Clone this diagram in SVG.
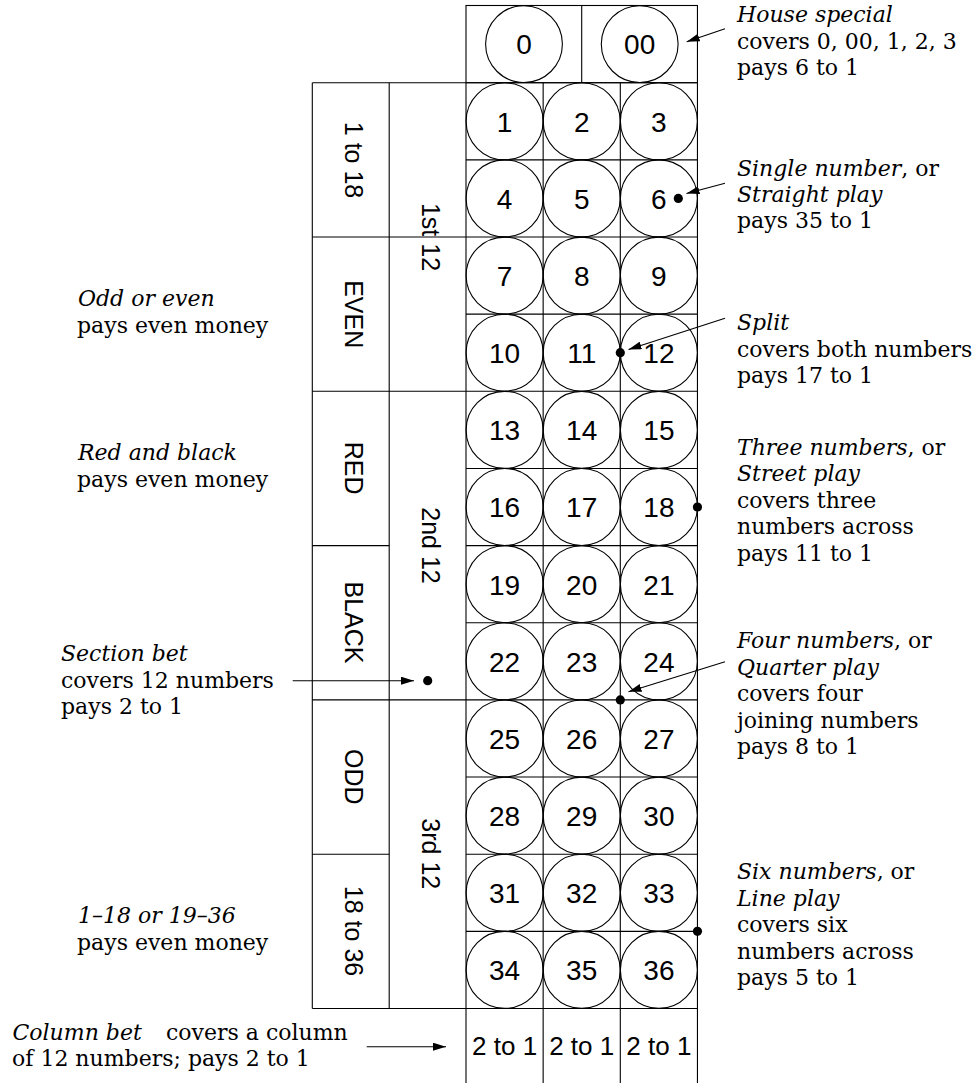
<svg xmlns="http://www.w3.org/2000/svg" width="978" height="1083" viewBox="0 0 978 1083">
<style>
.ln{stroke:#000;stroke-width:1.1;fill:none}
.c{fill:none;stroke:#000;stroke-width:1.1}
.n{font-family:"Liberation Sans",Arial,sans-serif;font-size:28px;text-anchor:middle;fill:#000}
.t{font-family:"Liberation Sans",Arial,sans-serif;font-size:26px;text-anchor:middle;fill:#000}
.v{font-family:"Liberation Sans",Arial,sans-serif;font-size:25px;text-anchor:middle;fill:#000}
.a{font-family:"DejaVu Serif","Liberation Serif",serif;font-size:22px;fill:#000}
.i{font-style:italic}
.dot{fill:#000}
.arr{stroke:#000;stroke-width:1.1;fill:none;marker-end:url(#ah)}
</style>
<defs>
<marker id="ah" markerUnits="userSpaceOnUse" markerWidth="13" markerHeight="8" refX="13" refY="4" orient="auto">
<path d="M0,0 L13,4 L0,8 z" fill="#000"/>
</marker>
</defs>
<rect width="978" height="1083" fill="#fff"/>

<!-- table frame -->
<g id="frame">
<rect class="ln" x="466" y="5.5" width="231.45" height="77.2"/>
<line class="ln" x1="581.7" y1="5.5" x2="581.7" y2="82.7"/>
<line class="ln" x1="312.3" y1="82.7" x2="697.45" y2="82.7"/>
<line class="ln" x1="312.3" y1="82.7" x2="312.3" y2="1008.5"/>
<line class="ln" x1="389.2" y1="82.7" x2="389.2" y2="1008.5"/>
<line class="ln" x1="466" y1="82.7" x2="466" y2="1083"/>
<line class="ln" x1="543.15" y1="82.7" x2="543.15" y2="1083"/>
<line class="ln" x1="620.3" y1="82.7" x2="620.3" y2="1083"/>
<line class="ln" x1="697.45" y1="82.7" x2="697.45" y2="1083"/>
<line class="ln" x1="466" y1="159.85" x2="697.45" y2="159.85"/>
<line class="ln" x1="312.3" y1="237" x2="697.45" y2="237"/>
<line class="ln" x1="466" y1="314.15" x2="697.45" y2="314.15"/>
<line class="ln" x1="312.3" y1="391.3" x2="697.45" y2="391.3"/>
<line class="ln" x1="466" y1="468.45" x2="697.45" y2="468.45"/>
<line class="ln" x1="312.3" y1="545.6" x2="389.2" y2="545.6"/>
<line class="ln" x1="466" y1="545.6" x2="697.45" y2="545.6"/>
<line class="ln" x1="466" y1="622.75" x2="697.45" y2="622.75"/>
<line class="ln" x1="312.3" y1="699.9" x2="697.45" y2="699.9"/>
<line class="ln" x1="466" y1="777.05" x2="697.45" y2="777.05"/>
<line class="ln" x1="312.3" y1="854.2" x2="389.2" y2="854.2"/>
<line class="ln" x1="466" y1="854.2" x2="697.45" y2="854.2"/>
<line class="ln" x1="466" y1="931.35" x2="697.45" y2="931.35"/>
<line class="ln" x1="312.3" y1="1008.5" x2="697.45" y2="1008.5"/>
</g>

<!-- zero cells -->
<g id="n0"><circle class="c" cx="524" cy="44.1" r="38.4"/><text class="n" x="524" y="54.4">0</text></g>
<g id="n00"><circle class="c" cx="639.7" cy="44.1" r="38.4"/><text class="n" x="639.7" y="54.4">00</text></g>

<!-- number cells -->
<g id="n1"><circle class="c" cx="504.6" cy="121.3" r="38.5"/><text class="n" x="504.6" y="131.6">1</text></g>
<g id="n2"><circle class="c" cx="581.7" cy="121.3" r="38.5"/><text class="n" x="581.7" y="131.6">2</text></g>
<g id="n3"><circle class="c" cx="658.9" cy="121.3" r="38.5"/><text class="n" x="658.9" y="131.6">3</text></g>
<g id="n4"><circle class="c" cx="504.6" cy="198.4" r="38.5"/><text class="n" x="504.6" y="208.7">4</text></g>
<g id="n5"><circle class="c" cx="581.7" cy="198.4" r="38.5"/><text class="n" x="581.7" y="208.7">5</text></g>
<g id="n6"><circle class="c" cx="658.9" cy="198.4" r="38.5"/><text class="n" x="658.9" y="208.7">6</text></g>
<g id="n7"><circle class="c" cx="504.6" cy="275.6" r="38.5"/><text class="n" x="504.6" y="285.9">7</text></g>
<g id="n8"><circle class="c" cx="581.7" cy="275.6" r="38.5"/><text class="n" x="581.7" y="285.9">8</text></g>
<g id="n9"><circle class="c" cx="658.9" cy="275.6" r="38.5"/><text class="n" x="658.9" y="285.9">9</text></g>
<g id="n10"><circle class="c" cx="504.6" cy="352.7" r="38.5"/><text class="n" x="504.6" y="363">10</text></g>
<g id="n11"><circle class="c" cx="581.7" cy="352.7" r="38.5"/><text class="n" x="581.7" y="363">11</text></g>
<g id="n12"><circle class="c" cx="658.9" cy="352.7" r="38.5"/><text class="n" x="658.9" y="363">12</text></g>
<g id="n13"><circle class="c" cx="504.6" cy="429.9" r="38.5"/><text class="n" x="504.6" y="440.2">13</text></g>
<g id="n14"><circle class="c" cx="581.7" cy="429.9" r="38.5"/><text class="n" x="581.7" y="440.2">14</text></g>
<g id="n15"><circle class="c" cx="658.9" cy="429.9" r="38.5"/><text class="n" x="658.9" y="440.2">15</text></g>
<g id="n16"><circle class="c" cx="504.6" cy="507" r="38.5"/><text class="n" x="504.6" y="517.3">16</text></g>
<g id="n17"><circle class="c" cx="581.7" cy="507" r="38.5"/><text class="n" x="581.7" y="517.3">17</text></g>
<g id="n18"><circle class="c" cx="658.9" cy="507" r="38.5"/><text class="n" x="658.9" y="517.3">18</text></g>
<g id="n19"><circle class="c" cx="504.6" cy="584.2" r="38.5"/><text class="n" x="504.6" y="594.5">19</text></g>
<g id="n20"><circle class="c" cx="581.7" cy="584.2" r="38.5"/><text class="n" x="581.7" y="594.5">20</text></g>
<g id="n21"><circle class="c" cx="658.9" cy="584.2" r="38.5"/><text class="n" x="658.9" y="594.5">21</text></g>
<g id="n22"><circle class="c" cx="504.6" cy="661.3" r="38.5"/><text class="n" x="504.6" y="671.6">22</text></g>
<g id="n23"><circle class="c" cx="581.7" cy="661.3" r="38.5"/><text class="n" x="581.7" y="671.6">23</text></g>
<g id="n24"><circle class="c" cx="658.9" cy="661.3" r="38.5"/><text class="n" x="658.9" y="671.6">24</text></g>
<g id="n25"><circle class="c" cx="504.6" cy="738.5" r="38.5"/><text class="n" x="504.6" y="748.8">25</text></g>
<g id="n26"><circle class="c" cx="581.7" cy="738.5" r="38.5"/><text class="n" x="581.7" y="748.8">26</text></g>
<g id="n27"><circle class="c" cx="658.9" cy="738.5" r="38.5"/><text class="n" x="658.9" y="748.8">27</text></g>
<g id="n28"><circle class="c" cx="504.6" cy="815.6" r="38.5"/><text class="n" x="504.6" y="825.9">28</text></g>
<g id="n29"><circle class="c" cx="581.7" cy="815.6" r="38.5"/><text class="n" x="581.7" y="825.9">29</text></g>
<g id="n30"><circle class="c" cx="658.9" cy="815.6" r="38.5"/><text class="n" x="658.9" y="825.9">30</text></g>
<g id="n31"><circle class="c" cx="504.6" cy="892.8" r="38.5"/><text class="n" x="504.6" y="903.1">31</text></g>
<g id="n32"><circle class="c" cx="581.7" cy="892.8" r="38.5"/><text class="n" x="581.7" y="903.1">32</text></g>
<g id="n33"><circle class="c" cx="658.9" cy="892.8" r="38.5"/><text class="n" x="658.9" y="903.1">33</text></g>
<g id="n34"><circle class="c" cx="504.6" cy="969.9" r="38.5"/><text class="n" x="504.6" y="980.2">34</text></g>
<g id="n35"><circle class="c" cx="581.7" cy="969.9" r="38.5"/><text class="n" x="581.7" y="980.2">35</text></g>
<g id="n36"><circle class="c" cx="658.9" cy="969.9" r="38.5"/><text class="n" x="658.9" y="980.2">36</text></g>

<!-- column bets -->
<g id="col1"><text class="t" x="504.6" y="1055">2 to 1</text></g>
<g id="col2"><text class="t" x="581.7" y="1055">2 to 1</text></g>
<g id="col3"><text class="t" x="658.9" y="1055">2 to 1</text></g>

<!-- outside bets (vertical labels) -->
<g id="low"><text class="v" transform="translate(345,160) rotate(90)">1 to 18</text></g>
<g id="even"><text class="v" transform="translate(345,314.2) rotate(90)">EVEN</text></g>
<g id="red"><text class="v" transform="translate(345,468.2) rotate(90)">RED</text></g>
<g id="black"><text class="v" transform="translate(345,622.5) rotate(90)">BLACK</text></g>
<g id="odd"><text class="v" transform="translate(345,776.8) rotate(90)">ODD</text></g>
<g id="high"><text class="v" transform="translate(345,931) rotate(90)">18 to 36</text></g>
<g id="doz1"><text class="v" transform="translate(422,237) rotate(90)">1st 12</text></g>
<g id="doz2"><text class="v" transform="translate(422,545.5) rotate(90)">2nd 12</text></g>
<g id="doz3"><text class="v" transform="translate(422,853.8) rotate(90)">3rd 12</text></g>

<!-- annotations right -->
<g id="house">
<text class="a" x="737" y="22"><tspan class="i">House special</tspan></text>
<text class="a" x="737" y="48.5">covers 0, 00, 1, 2, 3</text>
<text class="a" x="737" y="75">pays 6 to 1</text>
</g>
<g id="single">
<text class="a" x="737" y="176"><tspan class="i">Single number</tspan>, or</text>
<text class="a" x="737" y="202"><tspan class="i">Straight play</tspan></text>
<text class="a" x="737" y="228">pays 35 to 1</text>
</g>
<g id="split">
<text class="a" x="737" y="330"><tspan class="i">Split</tspan></text>
<text class="a" x="737" y="356.5">covers both numbers</text>
<text class="a" x="737" y="383">pays 17 to 1</text>
</g>
<g id="street">
<text class="a" x="737" y="454.5"><tspan class="i">Three numbers</tspan>, or</text>
<text class="a" x="737" y="481"><tspan class="i">Street play</tspan></text>
<text class="a" x="737" y="507.5">covers three</text>
<text class="a" x="737" y="534">numbers across</text>
<text class="a" x="737" y="560.5">pays 11 to 1</text>
</g>
<g id="quarter">
<text class="a" x="737" y="648"><tspan class="i">Four numbers</tspan>, or</text>
<text class="a" x="737" y="674.5"><tspan class="i">Quarter play</tspan></text>
<text class="a" x="737" y="701">covers four</text>
<text class="a" x="737" y="727.5">joining numbers</text>
<text class="a" x="737" y="754">pays 8 to 1</text>
</g>
<g id="line">
<text class="a" x="737" y="879"><tspan class="i">Six numbers</tspan>, or</text>
<text class="a" x="737" y="905.5"><tspan class="i">Line play</tspan></text>
<text class="a" x="737" y="932">covers six</text>
<text class="a" x="737" y="958.5">numbers across</text>
<text class="a" x="737" y="985">pays 5 to 1</text>
</g>

<!-- annotations left -->
<g id="oddeven">
<text class="a" x="78" y="306"><tspan class="i">Odd or even</tspan></text>
<text class="a" x="77" y="332.5">pays even money</text>
</g>
<g id="redblack">
<text class="a" x="78" y="460"><tspan class="i">Red and black</tspan></text>
<text class="a" x="77" y="486.5">pays even money</text>
</g>
<g id="section">
<text class="a" x="61" y="661"><tspan class="i">Section bet</tspan></text>
<text class="a" x="61" y="687.5">covers 12 numbers</text>
<text class="a" x="61" y="714">pays 2 to 1</text>
</g>
<g id="lowhigh">
<text class="a" x="78" y="923"><tspan class="i">1–18 or 19–36</tspan></text>
<text class="a" x="77" y="949.5">pays even money</text>
</g>
<g id="column">
<text class="a" x="12.5" y="1040"><tspan class="i">Column bet</tspan><tspan x="166">covers a column</tspan></text>
<text class="a" x="12" y="1066">of 12 numbers; pays 2 to 1</text>
</g>

<!-- connectors and bet markers -->
<g id="connectors">
<line class="arr" x1="725" y1="28.7" x2="686.7" y2="41.7"/>
<line class="arr" x1="725" y1="183.3" x2="686.5" y2="193.5"/>
<line class="arr" x1="725" y1="318.3" x2="628.5" y2="349.5"/>
<line class="arr" x1="725" y1="661.7" x2="628.5" y2="691.7"/>
<line class="arr" x1="292.7" y1="680.7" x2="414" y2="680.7"/>
<line class="arr" x1="366.7" y1="1046.7" x2="446" y2="1046.7"/>
<circle class="dot" cx="678.3" cy="198.4" r="4.6"/>
<circle class="dot" cx="620.3" cy="352.7" r="4.6"/>
<circle class="dot" cx="697.45" cy="507" r="4.6"/>
<circle class="dot" cx="620.3" cy="699.9" r="4.6"/>
<circle class="dot" cx="697.45" cy="931.35" r="4.6"/>
<circle class="dot" cx="427.7" cy="680.7" r="4.6"/>
</g>
</svg>
